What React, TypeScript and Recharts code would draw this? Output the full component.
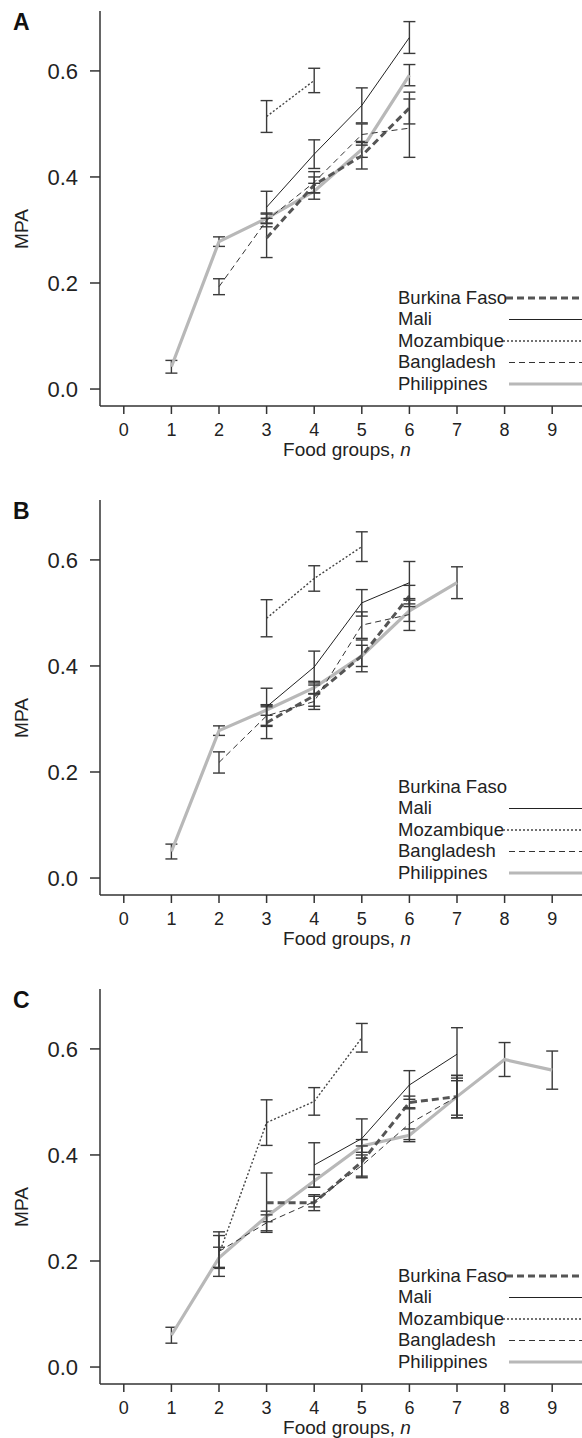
import React from "react";
import { ComposedChart, Line, XAxis, YAxis, ErrorBar, Customized } from "recharts";

// MPA (mean +/- SE) by number of food groups
const countries = ["Burkina Faso", "Mali", "Mozambique", "Bangladesh", "Philippines"];
const foodGroupTicks = [0, 1, 2, 3, 4, 5, 6, 7, 8, 9];
const mpaTicks = [0, 0.2, 0.4, 0.6];

// panel A
const aBurkina = { n: [3, 4, 5, 6], mpa: [0.285, 0.385, 0.44, 0.53], err: [0.037, 0.015, 0.025, 0.03] };
const aMali = { n: [3, 4, 5, 6], mpa: [0.343, 0.443, 0.535, 0.663], err: [0.03, 0.027, 0.033, 0.03] };
const aMozambique = { n: [3, 4], mpa: [0.514, 0.582], err: [0.03, 0.023] };
const aBangladesh = { n: [2, 3, 4, 5, 6], mpa: [0.193, 0.318, 0.39, 0.48, 0.492], err: [0.015, 0.012, 0.02, 0.02, 0.055] };
const aPhilippines = { n: [1, 2, 3, 4, 5, 6], mpa: [0.042, 0.278, 0.322, 0.373, 0.452, 0.592], err: [0.012, 0.009, 0.01, 0.015, 0.015, 0.02] };

// panel B
const bBurkina = { n: [3, 4, 5, 6], mpa: [0.293, 0.344, 0.419, 0.532], err: [0.03, 0.02, 0.03, 0.02] };
const bMali = { n: [3, 4, 5, 6], mpa: [0.323, 0.398, 0.519, 0.557], err: [0.035, 0.03, 0.025, 0.04] };
const bMozambique = { n: [3, 4, 5], mpa: [0.49, 0.565, 0.625], err: [0.035, 0.024, 0.028] };
const bBangladesh = { n: [2, 3, 4, 5, 6], mpa: [0.218, 0.306, 0.333, 0.477, 0.497], err: [0.02, 0.02, 0.015, 0.025, 0.03] };
const bPhilippines = { n: [1, 2, 3, 4, 5, 6, 7], mpa: [0.05, 0.278, 0.317, 0.359, 0.419, 0.504, 0.557], err: [0.014, 0.009, 0.01, 0.012, 0.02, 0.02, 0.03] };

// panel C
const cBurkina = { n: [3, 4, 5, 6, 7], mpa: [0.31, 0.31, 0.387, 0.499, 0.51], err: [0.056, 0.015, 0.03, 0.012, 0.04] };
const cMali = { n: [4, 5, 6, 7], mpa: [0.381, 0.431, 0.532, 0.59], err: [0.042, 0.037, 0.027, 0.05] };
const cMozambique = { n: [2, 3, 4, 5], mpa: [0.213, 0.461, 0.501, 0.621], err: [0.042, 0.043, 0.026, 0.027] };
const cBangladesh = { n: [2, 3, 4, 5, 6, 7], mpa: [0.218, 0.272, 0.312, 0.38, 0.459, 0.51], err: [0.03, 0.015, 0.01, 0.02, 0.03, 0.035] };
const cPhilippines = { n: [1, 2, 3, 4, 5, 6, 7, 8, 9], mpa: [0.06, 0.206, 0.284, 0.351, 0.417, 0.437, 0.51, 0.58, 0.56], err: [0.015, 0.02, 0.01, 0.012, 0.012, 0.012, 0.04, 0.032, 0.036] };

const FONT = "'Liberation Sans', Arial, Helvetica, sans-serif";
const W = 582;
const H = 489;

const lineStyle = [
  { stroke: "#555", strokeWidth: 3, dash: "7 4" }, // Burkina Faso
  { stroke: "#222", strokeWidth: 1, dash: undefined }, // Mali
  { stroke: "#444", strokeWidth: 1.4, dash: "2 2" }, // Mozambique
  { stroke: "#333", strokeWidth: 1, dash: "6 4" }, // Bangladesh
  { stroke: "#b8b8b8", strokeWidth: 3.2, dash: undefined }, // Philippines
];

const rows = (s: { n: number[]; mpa: number[]; err: number[] }) =>
  s.n.map((n, i) => ({ n, mpa: s.mpa[i], err: s.err[i] }));

const legendY = [297, 318.5, 340, 361.5, 383];
const sampleStart = [506, 509, 503, 509, 509];

function Overlay({ letter, burkinaSample }: { letter: string; burkinaSample: boolean }) {
  return (
    <g fontFamily={FONT}>
      <text x={13} y={30} fontSize={23} fontWeight="bold" fill="#111">{letter}</text>
      <text x={28} y={229} fontSize={19} fill="#222" textAnchor="middle" transform="rotate(-90 28 229)">MPA</text>
      <text x={347} y={456} fontSize={19} fill="#222" textAnchor="middle">
        Food groups, <tspan fontStyle="italic">n</tspan>
      </text>
      {countries.map((c, i) => (
        <g key={c}>
          <text x={398} y={legendY[i] + 6.5} fontSize={18.5} fill="#222">{c}</text>
          {(i !== 0 || burkinaSample) && (
            <line x1={sampleStart[i]} x2={W} y1={legendY[i] + 1} y2={legendY[i] + 1}
              stroke={lineStyle[i].stroke} strokeWidth={lineStyle[i].strokeWidth}
              strokeDasharray={lineStyle[i].dash} />
          )}
        </g>
      ))}
    </g>
  );
}

function Panel({ letter, series, burkinaSample }: any) {
  // Philippines first so the thin lines sit on top of it
  const order = [4, 0, 3, 2, 1];
  return (
    <ComposedChart width={W} height={H} margin={{ top: 11, right: 0, bottom: 0, left: 0 }}>
      <XAxis dataKey="n" type="number" domain={[-0.5, 9.626]} ticks={foodGroupTicks} allowDataOverflow
        height={83} tickSize={8} tickMargin={9} interval={0}
        axisLine={{ stroke: "#333", strokeWidth: 1.5 }} tickLine={{ stroke: "#333", strokeWidth: 1.5 }}
        tick={{ fill: "#222", fontSize: 18, fontFamily: FONT }} />
      <YAxis type="number" domain={[-0.032, 0.713]} ticks={mpaTicks} allowDataOverflow width={100}
        tickSize={10} tickMargin={12} tickFormatter={(v: number) => v.toFixed(1)}
        axisLine={{ stroke: "#333", strokeWidth: 1.5 }} tickLine={{ stroke: "#333", strokeWidth: 1.5 }}
        tick={{ fill: "#222", fontSize: 22, fontFamily: FONT }} />
      {order.map((i) => (
        <Line key={countries[i]} name={countries[i]} data={rows(series[i])} dataKey="mpa" type="linear"
          stroke={lineStyle[i].stroke} strokeWidth={lineStyle[i].strokeWidth}
          strokeDasharray={lineStyle[i].dash} dot={false} activeDot={false} isAnimationActive={false}>
          <ErrorBar dataKey="err" direction="y" width={6} stroke="#3a3a3a" strokeWidth={1.4} isAnimationActive={false} />
        </Line>
      ))}
      <Customized component={<Overlay letter={letter} burkinaSample={burkinaSample} />} />
    </ComposedChart>
  );
}

export default function App() {
  return (
    <div style={{ position: "absolute", left: 0, top: 0, width: W, height: 1438, overflow: "hidden", background: "#fff" }}>
      <div style={{ position: "absolute", top: 0 }}>
        <Panel letter="A" series={[aBurkina, aMali, aMozambique, aBangladesh, aPhilippines]} burkinaSample />
      </div>
      <div style={{ position: "absolute", top: 489 }}>
        <Panel letter="B" series={[bBurkina, bMali, bMozambique, bBangladesh, bPhilippines]} burkinaSample={false} />
      </div>
      <div style={{ position: "absolute", top: 978 }}>
        <Panel letter="C" series={[cBurkina, cMali, cMozambique, cBangladesh, cPhilippines]} burkinaSample />
      </div>
    </div>
  );
}
